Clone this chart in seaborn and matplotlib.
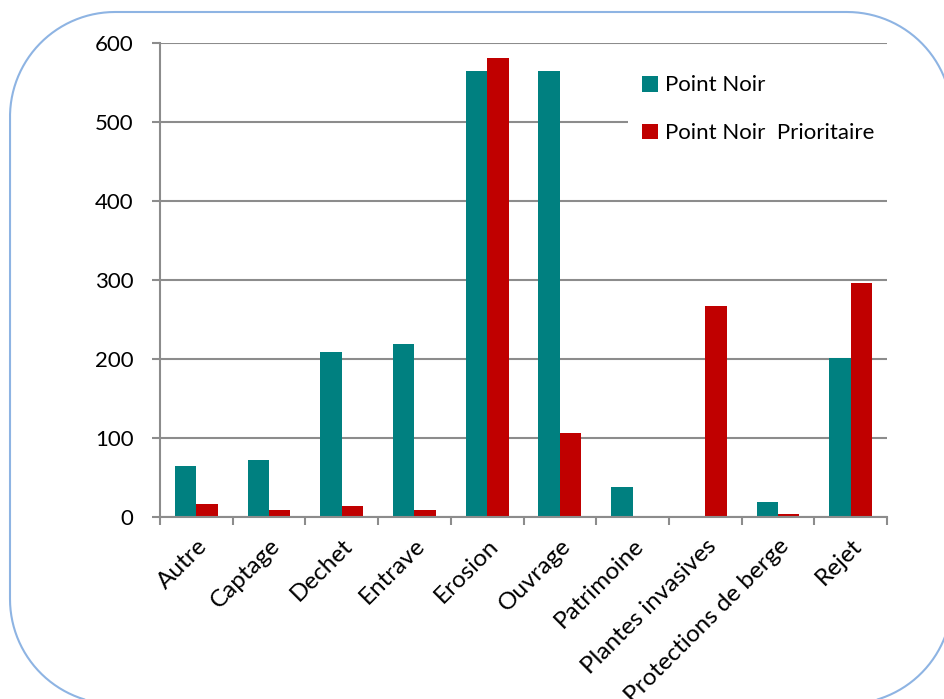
import matplotlib
matplotlib.use("Agg")
import matplotlib.pyplot as plt
import seaborn as sns
import pandas as pd
import numpy as np
from matplotlib.lines import Line2D

categories = ["Autre", "Captage", "Dechet", "Entrave", "Erosion", "Ouvrage",
              "Patrimoine", "Plantes invasives", "Protections de berge", "Rejet"]
point_noir = [65, 72, 209, 219, 565, 565, 38, 0, 19, 201]
point_noir_prio = [16, 9, 14, 9, 581, 106, 0, 267, 4, 296]
series = ["Point Noir", "Point Noir  Prioritaire"]
y_ticks = [0, 100, 200, 300, 400, 500, 600]

df = pd.DataFrame({
    "cat": categories * 2,
    "val": point_noir + point_noir_prio,
    "serie": [series[0]] * len(categories) + [series[1]] * len(categories),
})

sns.set_theme(style="white")
plt.rcParams["font.family"] = ["Lato", "DejaVu Sans"]
plt.rcParams["text.color"] = "black"
plt.rcParams["xtick.color"] = "black"
plt.rcParams["ytick.color"] = "black"

FS = 16
fig = plt.figure(figsize=(9.45, 6.99), dpi=100)
W, H = 945, 699
ax = fig.add_axes([160 / W, 1 - 517 / H, (887 - 160) / W, (517 - 43) / H])

sns.barplot(data=df, x="cat", y="val", hue="serie", order=categories,
            hue_order=series, palette=["#008080", "#C00000"], width=0.59,
            saturation=1, ax=ax, edgecolor="none", linewidth=0)

ax.set_ylim(0, 600)
ax.set_xlim(-0.5, len(categories) - 0.5)
ax.set_yticks(y_ticks)
ax.set_yticklabels([str(v) for v in y_ticks], fontsize=FS, color="black")
ax.set_xlabel("")
ax.set_ylabel("")
ax.yaxis.grid(True, color="#8C8C8C", linewidth=1.5)
ax.set_axisbelow(True)
for s in ["top", "right"]:
    ax.spines[s].set_visible(False)
for s in ["left", "bottom"]:
    ax.spines[s].set_color("#8C8C8C")
    ax.spines[s].set_linewidth(1.5)

# x ticks at category boundaries
ax.set_xticks([i - 0.5 for i in range(len(categories) + 1)], minor=False)
ax.set_xticklabels([""] * (len(categories) + 1))
ax.set_xticks(range(len(categories)), minor=True)
ax.set_xticklabels(categories, minor=True, rotation=45, ha="right",
                   rotation_mode="anchor", fontsize=17.5, color="black")
ax.tick_params(axis="x", which="major", direction="out", length=6, width=1.5,
               color="#8C8C8C", bottom=True)
ax.tick_params(axis="x", which="minor", length=0, pad=13, bottom=True)
ax.tick_params(axis="y", direction="out", length=6, width=1.5, color="#8C8C8C",
               left=True, pad=13)

leg = ax.legend(loc="upper left", bbox_to_anchor=((628 - 160) / 727, (517 - 61) / 474),
                borderaxespad=0, frameon=True, fontsize=FS, handlelength=0.72,
                handleheight=0.72, handletextpad=0.3, labelspacing=1.25,
                borderpad=0.65, fancybox=False)
leg.get_frame().set_facecolor("white")
leg.get_frame().set_edgecolor("none")
leg.get_frame().set_alpha(1)
for t in leg.get_texts():
    t.set_color("black")

# decorative rounded frame (pixel coords, top-left origin); parts off-canvas are skipped
x0, x1, y0, y1, r = 10, 952, 12, 704, 105
pts = []
for cx, cy, a0 in [(x1 - r, y0 + r, -90), (x1 - r, y1 - r, 0),
                   (x0 + r, y1 - r, 90), (x0 + r, y0 + r, 180)]:
    ang = np.radians(np.linspace(a0, a0 + 90, 60))
    pts.append(np.column_stack([cx + r * np.cos(ang), cy + r * np.sin(ang)]))
pts.append(pts[0][:1])
pts = np.vstack(pts).astype(float)
off = (pts[:, 0] > W + 1) | (pts[:, 1] > H + 1)
pts[off] = np.nan
fig.add_artist(Line2D(pts[:, 0] / W, 1 - pts[:, 1] / H, transform=fig.transFigure,
                      color="#8EB4E3", linewidth=1.5, clip_on=False))

fig.savefig("out.png", dpi=100)
